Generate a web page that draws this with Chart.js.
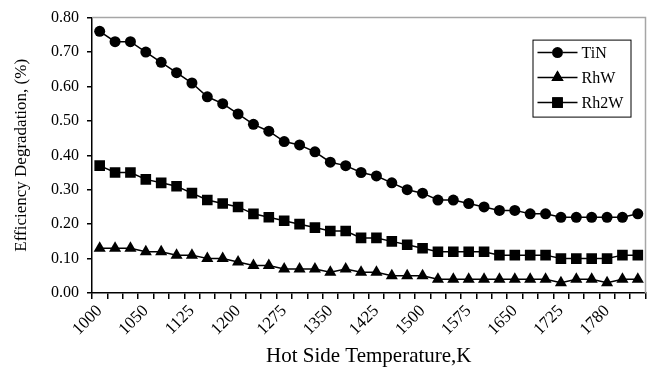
<!DOCTYPE html>
<html>
<head>
<meta charset="utf-8">
<script src="https://cdn.jsdelivr.net/npm/chart.js@4"></script>
<style>
  html, body { margin: 0; padding: 0; background: #fff; }
  #wrap { width: 653px; height: 374px; }
</style>
</head>
<body>
<div id="wrap"><canvas id="chart"></canvas></div>
<script>
// categories: only every third one carries a label in the picture
const tempLabels = ['1000', '', '', '1050', '', '', '1125', '', '', '1200', '', '', '1275', '', '', '1350', '', '',
  '1425', '', '', '1500', '', '', '1575', '', '', '1650', '', '', '1725', '', '', '1780', '', ''];

// efficiency degradation, (%)
const tin = [0.76, 0.73, 0.73, 0.70, 0.67, 0.64, 0.61, 0.57, 0.55, 0.52, 0.49, 0.47, 0.44, 0.43, 0.41, 0.38, 0.37, 0.35,
  0.34, 0.32, 0.30, 0.29, 0.27, 0.27, 0.26, 0.25, 0.24, 0.24, 0.23, 0.23, 0.22, 0.22, 0.22, 0.22, 0.22, 0.23];
const rhw = [0.13, 0.13, 0.13, 0.12, 0.12, 0.11, 0.11, 0.10, 0.10, 0.09, 0.08, 0.08, 0.07, 0.07, 0.07, 0.06, 0.07, 0.06,
  0.06, 0.05, 0.05, 0.05, 0.04, 0.04, 0.04, 0.04, 0.04, 0.04, 0.04, 0.04, 0.03, 0.04, 0.04, 0.03, 0.04, 0.04];
const rh2w = [0.37, 0.35, 0.35, 0.33, 0.32, 0.31, 0.29, 0.27, 0.26, 0.25, 0.23, 0.22, 0.21, 0.20, 0.19, 0.18, 0.18, 0.16,
  0.16, 0.15, 0.14, 0.13, 0.12, 0.12, 0.12, 0.12, 0.11, 0.11, 0.11, 0.11, 0.10, 0.10, 0.10, 0.10, 0.11, 0.11];

const yTicks = [0, 0.8, 0.1]; // min, max, step

const serif = "'Liberation Serif', 'Times New Roman', serif";

function series(label, data, style, radius) {
  return {
    label: label,
    data: data,
    borderColor: '#000',
    backgroundColor: '#000',
    borderWidth: 1.5,
    pointStyle: style,
    pointRadius: radius,
    pointHoverRadius: radius,
    pointBackgroundColor: '#000',
    pointBorderColor: '#000',
    pointBorderWidth: 0,
    tension: 0
  };
}

// grey top/right frame and boxed legend inside the plot
const frame = {
  id: 'frame',
  beforeDatasetsDraw(chart) {
    const { ctx, chartArea: a } = chart;
    ctx.save();
    ctx.strokeStyle = '#a6a6a6';
    ctx.lineWidth = 1.5;
    ctx.beginPath();
    ctx.moveTo(a.left, a.top);
    ctx.lineTo(a.right, a.top);
    ctx.lineTo(a.right, a.bottom);
    ctx.stroke();
    ctx.restore();
  },
  afterDraw(chart) {
    const { ctx, chartArea: a } = chart;
    const left = a.right - 113, top = a.top + 22, w = 98, h = 77;
    ctx.save();
    ctx.fillStyle = '#fff';
    ctx.fillRect(left, top, w, h);
    ctx.strokeStyle = '#000';
    ctx.lineWidth = 1;
    ctx.strokeRect(left + 0.5, top + 0.5, w, h);
    ctx.font = '16px ' + serif;
    ctx.textBaseline = 'middle';
    chart.data.datasets.forEach((ds, i) => {
      const y = top + 13 + i * 25;
      ctx.strokeStyle = '#000';
      ctx.lineWidth = 1.5;
      ctx.beginPath();
      ctx.moveTo(left + 5, y);
      ctx.lineTo(left + 45, y);
      ctx.stroke();
      Chart.helpers.drawPoint(ctx, {
        pointStyle: ds.pointStyle, radius: ds.pointRadius, borderWidth: 0, rotation: 0
      }, left + 25, y);
      ctx.fillStyle = '#000';
      ctx.fill();
      ctx.fillText(ds.label, left + 49, y + 1);
    });
    ctx.restore();
  }
};

new Chart(document.getElementById('chart'), {
  type: 'line',
  data: {
    labels: tempLabels,
    datasets: [
      series('TiN', tin, 'circle', 5.5),
      series('RhW', rhw, 'triangle', 7),
      series('Rh2W', rh2w, 'rect', 7.5)
    ]
  },
  options: {
    responsive: true,
    maintainAspectRatio: false,
    animation: false,
    layout: { padding: { top: 15, right: 6, left: 0, bottom: 0 } },
    plugins: {
      legend: { display: false },
      tooltip: { enabled: false }
    },
    scales: {
      x: {
        offset: true,
        grid: { offset: true, drawOnChartArea: false, color: '#000', lineWidth: 1.5, tickLength: 6 },
        border: { color: '#000', width: 1.5 },
        ticks: {
          autoSkip: false,
          minRotation: 45,
          maxRotation: 45,
          color: '#000',
          padding: 2,
          font: { family: serif, size: 17 }
        },
        title: {
          display: true,
          text: 'Hot Side Temperature,K',
          color: '#000',
          padding: { top: 0, bottom: 5 },
          font: { family: serif, size: 21 }
        },
        afterFit(scale) {
          scale.height = 81;
          scale.paddingRight = 0;
        }
      },
      y: {
        min: yTicks[0],
        max: yTicks[1],
        grid: { drawOnChartArea: false, color: '#000', lineWidth: 1.5, tickLength: 5 },
        border: { color: '#000', width: 1.5 },
        ticks: {
          stepSize: yTicks[2],
          color: '#000',
          padding: 8,
          font: { family: serif, size: 16 },
          callback: v => v.toFixed(2)
        },
        title: {
          display: true,
          text: 'Efficiency Degradation, (%)',
          color: '#000',
          padding: { top: 11, bottom: 0 },
          font: { family: serif, size: 17 }
        },
        afterFit(scale) { scale.width = 92; }
      }
    }
  },
  plugins: [frame]
});
</script>
</body>
</html>
